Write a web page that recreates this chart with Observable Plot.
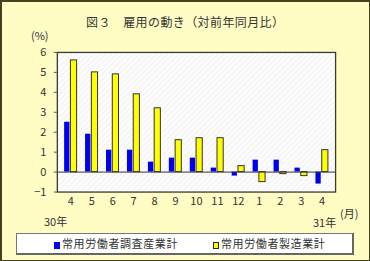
<!DOCTYPE html>
<html><head><meta charset="utf-8">
<script src="https://cdn.jsdelivr.net/npm/d3@7"></script>
<script src="https://cdn.jsdelivr.net/npm/@observablehq/plot@0.6"></script>
<style>
body{margin:0;}
#wrap{position:relative;width:370px;height:261px;box-sizing:border-box;border:2px solid #45401f;border-right-width:1px;border-bottom-width:1px;background:#fffcc4;font-family:"Noto Sans CJK JP",sans-serif;color:#333;overflow:hidden;}
.t{position:absolute;white-space:nowrap;line-height:1;}
#chart{position:absolute;left:-2px;top:26px;}
#legend{position:absolute;left:14px;top:231px;width:338px;height:22px;box-sizing:border-box;background:#fff;border:1px solid #777;border-right:2px solid #666;border-bottom:2px solid #666;font-size:11px;letter-spacing:0.6px;}
.sw{position:absolute;width:6px;height:7px;box-sizing:border-box;}
</style></head>
<body>
<div id="wrap">
  <div class="t" style="left:84px;top:14px;font-size:12px;color:#333;letter-spacing:0.4px;">図３　雇用の動き（対前年同月比）</div>
  <div class="t" style="left:29px;top:28px;font-size:11px;">(%)</div>
  <div id="chart"></div>
  <div class="t" style="left:42px;top:214px;font-size:11px;">30年</div>
  <div class="t" style="left:311px;top:215px;font-size:11px;">31年</div>
  <div class="t" style="left:338px;top:206px;font-size:11px;">(月)</div>
  <div id="legend"></div>
</div>
<script>
const months = ["4","5","6","7","8","9","10","11","12","1","2","3","4"];
const allIndustries = [2.5, 1.9, 1.1, 1.1, 0.5, 0.7, 0.7, 0.2, -0.2, 0.6, 0.6, 0.2, -0.6];
const manufacturing = [5.6, 5.0, 4.9, 3.9, 3.2, 1.6, 1.7, 1.7, 0.3, -0.5, -0.1, -0.2, 1.1];
const seriesNames = ["常用労働者調査産業計", "常用労働者製造業計"];
const yTicks = [-1, 0, 1, 2, 3, 4, 5, 6];

const data = months.map((m, i) => ({i, a: allIndustries[i], b: manufacturing[i]}));

const chart = Plot.plot({
  width: 370, height: 202,
  marginLeft: 57, marginRight: 34, marginTop: 24, marginBottom: 38,
  style: {fontFamily: '"Noto Sans CJK JP", sans-serif', fontSize: "11px", color: "#333", background: "transparent", overflow: "visible"},
  x: {type: "band", domain: d3.range(months.length), padding: 0, axis: null},
  y: {domain: [-1, 6], axis: null},
  marks: [
    Plot.frame({fill: "url(#hatch)", stroke: "none"}),
    Plot.barY(data, {x: "i", y: "a", fill: "#0000ee", insetLeft: 4.3, insetRight: 11.4}),
    Plot.barY(data, {x: "i", y: "b", fill: "#ffff00", stroke: "#333", strokeWidth: 1, insetLeft: 10.6, insetRight: 4.2}),
    Plot.ruleY([0], {stroke: "#333", strokeWidth: 1}),
    Plot.frame({stroke: "#3a3a30", strokeWidth: 1.3}),
    Plot.axisY(yTicks, {tickSize: 3, tickPadding: 8, stroke: "#555", fill: "#333", fontSize: 11, label: null}),
    Plot.axisX(d3.range(months.length), {tickSize: 0, tickPadding: 5, tickFormat: i => months[i], fill: "#333", fontSize: 11, label: null})
  ]
});
const svgNS = "http://www.w3.org/2000/svg";
const defs = document.createElementNS(svgNS, "defs");
defs.innerHTML = '<pattern id="hatch" width="4" height="4" patternUnits="userSpaceOnUse" patternTransform="rotate(45)"><rect width="4" height="4" fill="#fcfcfc"/><line x1="0" y1="0" x2="0" y2="4" stroke="#e8e8e8" stroke-width="1"/></pattern>';
chart.insertBefore(defs, chart.firstChild);
document.getElementById("chart").appendChild(chart);

const lg = document.getElementById("legend");
const colors = [["#0000ee", "none"], ["#ffff00", "1px solid #222"]];
const lefts = [37, 196];
seriesNames.forEach((name, k) => {
  const sw = document.createElement("div");
  sw.className = "sw";
  sw.style.left = lefts[k] + "px";
  sw.style.top = "8px";
  sw.style.background = colors[k][0];
  sw.style.border = colors[k][1];
  lg.appendChild(sw);
  const t = document.createElement("div");
  t.className = "t";
  t.style.left = (lefts[k] + 8) + "px";
  t.style.top = "4px";
  t.textContent = name;
  lg.appendChild(t);
});
</script>
</body></html>
